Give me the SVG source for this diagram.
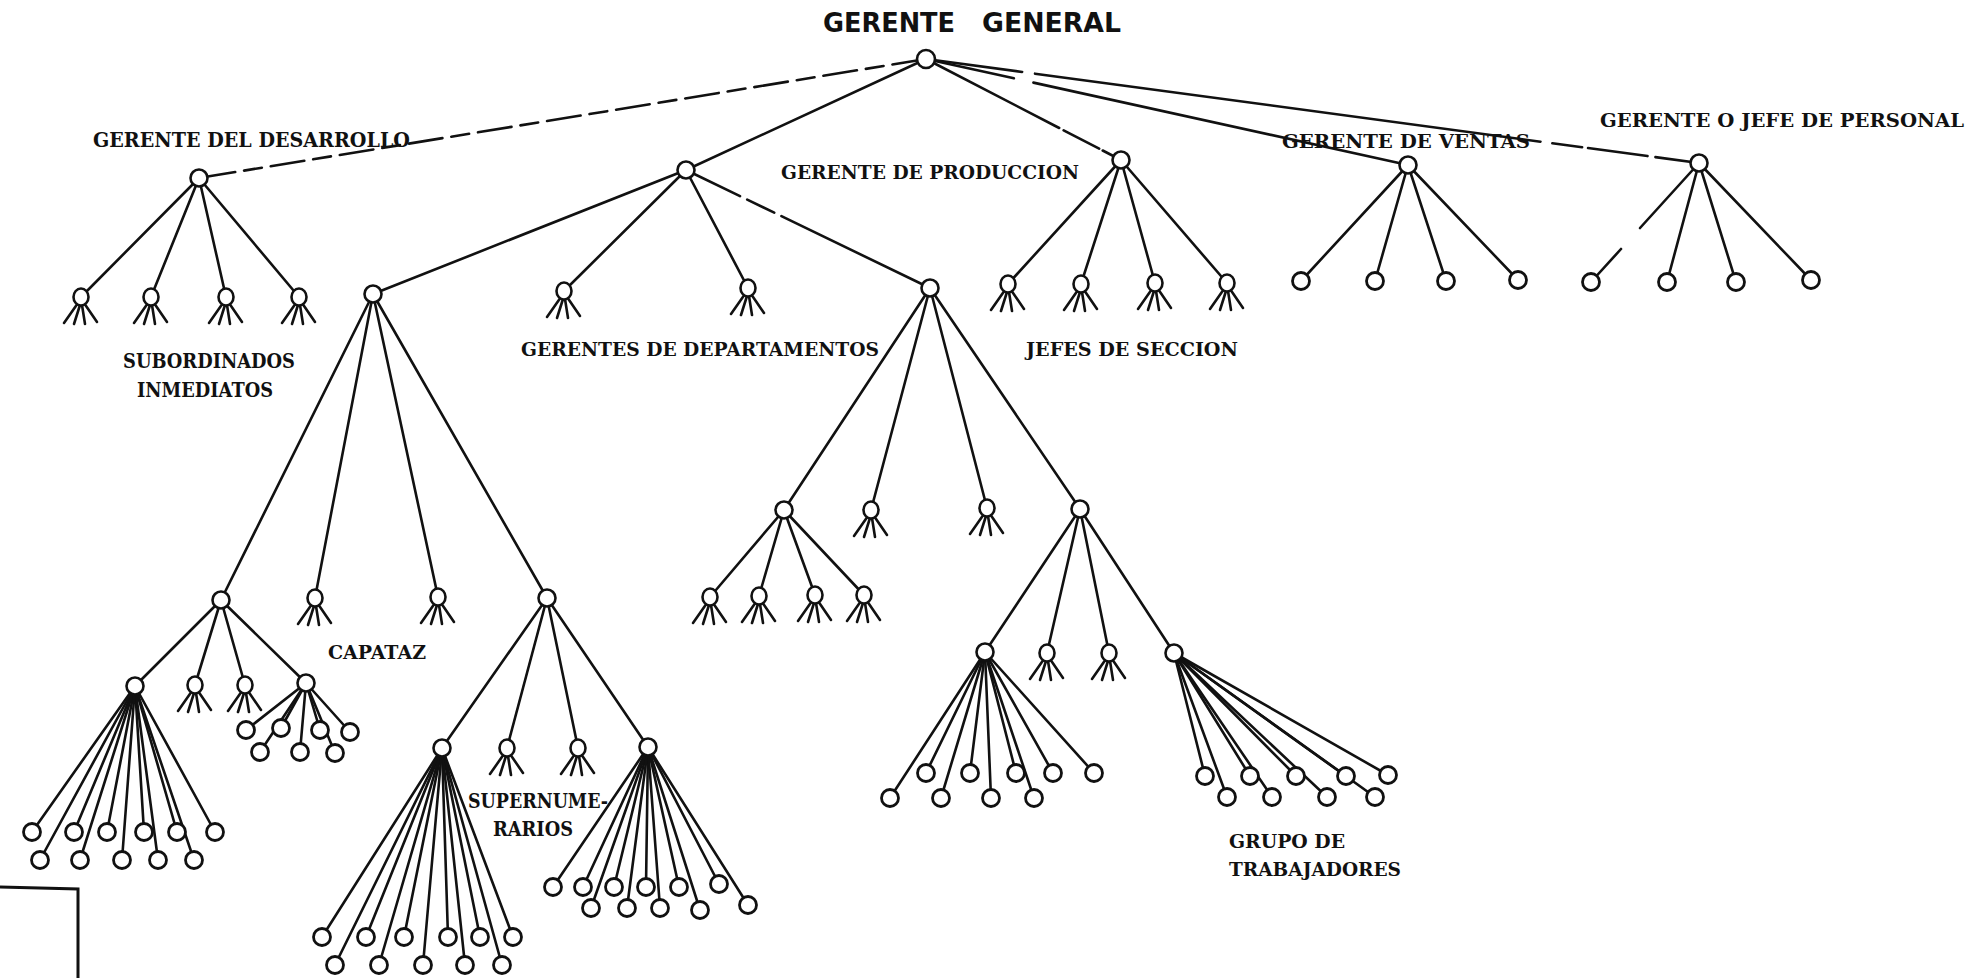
<svg xmlns="http://www.w3.org/2000/svg" xmlns:xlink="http://www.w3.org/1999/xlink" width="1971" height="978" viewBox="0 0 1971 978">
<style>
.e{stroke:#111;stroke-width:2.6;fill:none;stroke-linecap:round}
.n{fill:#fff;stroke:#111;stroke-width:2.6}
.lf{fill:#fff;stroke:#111;stroke-width:2.8}
.lbl{font-family:"DejaVu Serif","Liberation Serif",serif;font-weight:bold;fill:#111}
.ttl{font-family:"DejaVu Sans","Liberation Sans",sans-serif;font-weight:bold;fill:#111}
</style>
<defs>
<g id="ft">
<path class="e" d="M-3,6 L-17,26 M-1,8 L-7,27 M1,8 L4,27 M3,6 L16,25"/>
<ellipse class="n" rx="7.5" ry="8.5"/>
</g>
</defs>
<rect width="1971" height="978" fill="#fff"/>

<g id="connectors">
<line class="e" x1="926" y1="59" x2="199" y2="178" stroke-dasharray="34 9 18 9"/>
<line class="e" x1="926" y1="59" x2="686" y2="170"/>
<line class="e" x1="926" y1="59" x2="1121" y2="160" stroke-dasharray="150 5 40 4 300"/>
<line class="e" x1="926" y1="59" x2="1408" y2="165" stroke-dasharray="90 20 500"/>
<line class="e" x1="926" y1="59" x2="1699" y2="163" stroke-dasharray="97 13 510 12 30 6 60 8 200"/>

<line class="e" x1="199" y1="178" x2="81" y2="297"/>
<line class="e" x1="199" y1="178" x2="151" y2="297"/>
<line class="e" x1="199" y1="178" x2="226" y2="297"/>
<line class="e" x1="199" y1="178" x2="299" y2="297"/>

<line class="e" x1="1121" y1="160" x2="1008" y2="284"/>
<line class="e" x1="1121" y1="160" x2="1081" y2="284"/>
<line class="e" x1="1121" y1="160" x2="1155" y2="283"/>
<line class="e" x1="1121" y1="160" x2="1227" y2="283"/>

<line class="e" x1="1408" y1="165" x2="1301" y2="281"/>
<line class="e" x1="1408" y1="165" x2="1375" y2="281"/>
<line class="e" x1="1408" y1="165" x2="1446" y2="281"/>
<line class="e" x1="1408" y1="165" x2="1518" y2="280"/>

<line class="e" x1="1699" y1="163" x2="1640" y2="228"/>
<line class="e" x1="1621" y1="249" x2="1591" y2="282"/>
<line class="e" x1="1699" y1="163" x2="1667" y2="282"/>
<line class="e" x1="1699" y1="163" x2="1736" y2="282"/>
<line class="e" x1="1699" y1="163" x2="1811" y2="280"/>

<line class="e" x1="686" y1="170" x2="373" y2="294"/>
<line class="e" x1="686" y1="170" x2="564" y2="291"/>
<line class="e" x1="686" y1="170" x2="748" y2="288"/>
<line class="e" x1="686" y1="170" x2="930" y2="288" stroke-dasharray="60 8 30 8 200"/>

<line class="e" x1="373" y1="294" x2="221" y2="600"/>
<line class="e" x1="373" y1="294" x2="315" y2="598"/>
<line class="e" x1="373" y1="294" x2="438" y2="597"/>
<line class="e" x1="373" y1="294" x2="547" y2="598"/>

<line class="e" x1="221" y1="600" x2="135" y2="686"/>
<line class="e" x1="221" y1="600" x2="195" y2="685"/>
<line class="e" x1="221" y1="600" x2="245" y2="685"/>
<line class="e" x1="221" y1="600" x2="306" y2="683"/>

<line class="e" x1="135" y1="686" x2="32" y2="832"/>
<line class="e" x1="135" y1="686" x2="74" y2="832"/>
<line class="e" x1="135" y1="686" x2="107" y2="832"/>
<line class="e" x1="135" y1="686" x2="144" y2="832"/>
<line class="e" x1="135" y1="686" x2="177" y2="832"/>
<line class="e" x1="135" y1="686" x2="215" y2="832"/>
<line class="e" x1="135" y1="686" x2="40" y2="860"/>
<line class="e" x1="135" y1="686" x2="80" y2="860"/>
<line class="e" x1="135" y1="686" x2="122" y2="860"/>
<line class="e" x1="135" y1="686" x2="158" y2="860"/>
<line class="e" x1="135" y1="686" x2="194" y2="860"/>

<line class="e" x1="306" y1="683" x2="246" y2="730"/>
<line class="e" x1="306" y1="683" x2="281" y2="728"/>
<line class="e" x1="306" y1="683" x2="320" y2="730"/>
<line class="e" x1="306" y1="683" x2="350" y2="732"/>
<line class="e" x1="306" y1="683" x2="260" y2="752"/>
<line class="e" x1="306" y1="683" x2="300" y2="752"/>
<line class="e" x1="306" y1="683" x2="335" y2="753"/>

<line class="e" x1="547" y1="598" x2="442" y2="748"/>
<line class="e" x1="547" y1="598" x2="507" y2="748"/>
<line class="e" x1="547" y1="598" x2="578" y2="748"/>
<line class="e" x1="547" y1="598" x2="648" y2="747"/>

<line class="e" x1="442" y1="748" x2="322" y2="937"/>
<line class="e" x1="442" y1="748" x2="366" y2="937"/>
<line class="e" x1="442" y1="748" x2="404" y2="937"/>
<line class="e" x1="442" y1="748" x2="448" y2="937"/>
<line class="e" x1="442" y1="748" x2="480" y2="937"/>
<line class="e" x1="442" y1="748" x2="513" y2="937"/>
<line class="e" x1="442" y1="748" x2="335" y2="965"/>
<line class="e" x1="442" y1="748" x2="379" y2="965"/>
<line class="e" x1="442" y1="748" x2="423" y2="965"/>
<line class="e" x1="442" y1="748" x2="465" y2="965"/>
<line class="e" x1="442" y1="748" x2="502" y2="965"/>

<line class="e" x1="648" y1="747" x2="553" y2="887"/>
<line class="e" x1="648" y1="747" x2="583" y2="887"/>
<line class="e" x1="648" y1="747" x2="614" y2="887"/>
<line class="e" x1="648" y1="747" x2="646" y2="887"/>
<line class="e" x1="648" y1="747" x2="679" y2="887"/>
<line class="e" x1="648" y1="747" x2="719" y2="884"/>
<line class="e" x1="648" y1="747" x2="591" y2="908"/>
<line class="e" x1="648" y1="747" x2="627" y2="908"/>
<line class="e" x1="648" y1="747" x2="660" y2="908"/>
<line class="e" x1="648" y1="747" x2="700" y2="910"/>
<line class="e" x1="648" y1="747" x2="748" y2="905"/>

<line class="e" x1="930" y1="288" x2="784" y2="510"/>
<line class="e" x1="930" y1="288" x2="871" y2="510"/>
<line class="e" x1="930" y1="288" x2="987" y2="508"/>
<line class="e" x1="930" y1="288" x2="1080" y2="509"/>

<line class="e" x1="784" y1="510" x2="710" y2="597"/>
<line class="e" x1="784" y1="510" x2="759" y2="596"/>
<line class="e" x1="784" y1="510" x2="815" y2="595"/>
<line class="e" x1="784" y1="510" x2="864" y2="595"/>

<line class="e" x1="1080" y1="509" x2="985" y2="652"/>
<line class="e" x1="1080" y1="509" x2="1047" y2="653"/>
<line class="e" x1="1080" y1="509" x2="1109" y2="653"/>
<line class="e" x1="1080" y1="509" x2="1174" y2="653"/>

<line class="e" x1="985" y1="652" x2="926" y2="773"/>
<line class="e" x1="985" y1="652" x2="970" y2="773"/>
<line class="e" x1="985" y1="652" x2="1016" y2="773"/>
<line class="e" x1="985" y1="652" x2="1053" y2="773"/>
<line class="e" x1="985" y1="652" x2="1094" y2="773"/>
<line class="e" x1="985" y1="652" x2="890" y2="798"/>
<line class="e" x1="985" y1="652" x2="941" y2="798"/>
<line class="e" x1="985" y1="652" x2="991" y2="798"/>
<line class="e" x1="985" y1="652" x2="1034" y2="798"/>

<line class="e" x1="1174" y1="653" x2="1205" y2="776"/>
<line class="e" x1="1174" y1="653" x2="1250" y2="776"/>
<line class="e" x1="1174" y1="653" x2="1296" y2="776"/>
<line class="e" x1="1174" y1="653" x2="1346" y2="776"/>
<line class="e" x1="1174" y1="653" x2="1388" y2="775"/>
<line class="e" x1="1174" y1="653" x2="1227" y2="797"/>
<line class="e" x1="1174" y1="653" x2="1272" y2="797"/>
<line class="e" x1="1174" y1="653" x2="1327" y2="797"/>
<line class="e" x1="1174" y1="653" x2="1375" y2="797"/>
</g>

<g id="labels">
<text class="ttl" x="823" y="32" font-size="26" textLength="132" lengthAdjust="spacingAndGlyphs">GERENTE</text>
<text class="ttl" x="982" y="32" font-size="26" textLength="139" lengthAdjust="spacingAndGlyphs">GENERAL</text>
<text class="lbl" x="93" y="147" font-size="21" textLength="317" lengthAdjust="spacingAndGlyphs">GERENTE DEL DESARROLLO</text>
<text class="lbl" x="781" y="179" font-size="19" textLength="298" lengthAdjust="spacingAndGlyphs">GERENTE DE PRODUCCION</text>
<text class="lbl" x="1282" y="148" font-size="19" textLength="248" lengthAdjust="spacingAndGlyphs">GERENTE DE VENTAS</text>
<text class="lbl" x="1600" y="127" font-size="19" textLength="364" lengthAdjust="spacingAndGlyphs">GERENTE O JEFE DE PERSONAL</text>
<text class="lbl" x="123" y="368" font-size="20" textLength="172" lengthAdjust="spacingAndGlyphs">SUBORDINADOS</text>
<text class="lbl" x="137" y="397" font-size="20" textLength="136" lengthAdjust="spacingAndGlyphs">INMEDIATOS</text>
<text class="lbl" x="521" y="356" font-size="19" textLength="358" lengthAdjust="spacingAndGlyphs">GERENTES DE DEPARTAMENTOS</text>
<text class="lbl" x="1026" y="356" font-size="19" textLength="212" lengthAdjust="spacingAndGlyphs">JEFES DE SECCION</text>
<text class="lbl" x="328" y="659" font-size="19" textLength="98" lengthAdjust="spacingAndGlyphs">CAPATAZ</text>
<text class="lbl" x="468" y="808" font-size="20" textLength="140" lengthAdjust="spacingAndGlyphs">SUPERNUME-</text>
<text class="lbl" x="493" y="836" font-size="20" textLength="80" lengthAdjust="spacingAndGlyphs">RARIOS</text>
<text class="lbl" x="1229" y="848" font-size="18" textLength="116" lengthAdjust="spacingAndGlyphs">GRUPO DE</text>
<text class="lbl" x="1229" y="876" font-size="18" textLength="172" lengthAdjust="spacingAndGlyphs">TRABAJADORES</text>
</g>

<g id="root"><circle class="n" cx="926" cy="59" r="9"/></g>
<g id="gerente-desarrollo"><circle class="n" cx="199" cy="178" r="8.5"/></g>
<g id="gerente-produccion"><circle class="n" cx="686" cy="170" r="8.5"/></g>
<g id="gerente-c"><circle class="n" cx="1121" cy="160" r="8.5"/></g>
<g id="gerente-ventas"><circle class="n" cx="1408" cy="165" r="8.5"/></g>
<g id="gerente-personal"><circle class="n" cx="1699" cy="163" r="8.5"/></g>

<g id="subordinados">
<use href="#ft" x="81" y="297"/><use href="#ft" x="151" y="297"/><use href="#ft" x="226" y="297"/><use href="#ft" x="299" y="297"/>
</g>
<g id="c-children">
<use href="#ft" x="1008" y="284"/><use href="#ft" x="1081" y="284"/><use href="#ft" x="1155" y="283"/><use href="#ft" x="1227" y="283"/>
</g>
<g id="ventas-children">
<circle class="lf" cx="1301" cy="281" r="8.5"/><circle class="lf" cx="1375" cy="281" r="8.5"/><circle class="lf" cx="1446" cy="281" r="8.5"/><circle class="lf" cx="1518" cy="280" r="8.5"/>
</g>
<g id="personal-children">
<circle class="lf" cx="1591" cy="282" r="8.5"/><circle class="lf" cx="1667" cy="282" r="8.5"/><circle class="lf" cx="1736" cy="282" r="8.5"/><circle class="lf" cx="1811" cy="280" r="8.5"/>
</g>

<g id="dept-1"><circle class="n" cx="373" cy="294" r="8.5"/></g>
<g id="dept-2"><use href="#ft" x="564" y="291"/></g>
<g id="dept-3"><use href="#ft" x="748" y="288"/></g>
<g id="dept-4"><circle class="n" cx="930" cy="288" r="8.5"/></g>

<g id="jefe-1a"><circle class="n" cx="221" cy="600" r="8.5"/></g>
<g id="jefe-1b"><use href="#ft" x="315" y="598"/></g>
<g id="jefe-1c"><use href="#ft" x="438" y="597"/></g>
<g id="jefe-1d"><circle class="n" cx="547" cy="598" r="8.5"/></g>

<g id="capataz-a">
<circle class="n" cx="135" cy="686" r="8.5"/>
<use href="#ft" x="195" y="685"/><use href="#ft" x="245" y="685"/>
<circle class="n" cx="306" cy="683" r="8.5"/>
</g>
<g id="grupo-a1">
<circle class="lf" cx="32" cy="832" r="8.5"/><circle class="lf" cx="74" cy="832" r="8.5"/><circle class="lf" cx="107" cy="832" r="8.5"/><circle class="lf" cx="144" cy="832" r="8.5"/><circle class="lf" cx="177" cy="832" r="8.5"/><circle class="lf" cx="215" cy="832" r="8.5"/>
<circle class="lf" cx="40" cy="860" r="8.5"/><circle class="lf" cx="80" cy="860" r="8.5"/><circle class="lf" cx="122" cy="860" r="8.5"/><circle class="lf" cx="158" cy="860" r="8.5"/><circle class="lf" cx="194" cy="860" r="8.5"/>
</g>
<g id="grupo-a4">
<circle class="lf" cx="246" cy="730" r="8.5"/><circle class="lf" cx="281" cy="728" r="8.5"/><circle class="lf" cx="320" cy="730" r="8.5"/><circle class="lf" cx="350" cy="732" r="8.5"/>
<circle class="lf" cx="260" cy="752" r="8.5"/><circle class="lf" cx="300" cy="752" r="8.5"/><circle class="lf" cx="335" cy="753" r="8.5"/>
</g>

<g id="capataz-d">
<circle class="n" cx="442" cy="748" r="8.5"/>
<use href="#ft" x="507" y="748"/><use href="#ft" x="578" y="748"/>
<circle class="n" cx="648" cy="747" r="8.5"/>
</g>
<g id="grupo-d1">
<circle class="lf" cx="322" cy="937" r="8.5"/><circle class="lf" cx="366" cy="937" r="8.5"/><circle class="lf" cx="404" cy="937" r="8.5"/><circle class="lf" cx="448" cy="937" r="8.5"/><circle class="lf" cx="480" cy="937" r="8.5"/><circle class="lf" cx="513" cy="937" r="8.5"/>
<circle class="lf" cx="335" cy="965" r="8.5"/><circle class="lf" cx="379" cy="965" r="8.5"/><circle class="lf" cx="423" cy="965" r="8.5"/><circle class="lf" cx="465" cy="965" r="8.5"/><circle class="lf" cx="502" cy="965" r="8.5"/>
</g>
<g id="grupo-d4">
<circle class="lf" cx="553" cy="887" r="8.5"/><circle class="lf" cx="583" cy="887" r="8.5"/><circle class="lf" cx="614" cy="887" r="8.5"/><circle class="lf" cx="646" cy="887" r="8.5"/><circle class="lf" cx="679" cy="887" r="8.5"/><circle class="lf" cx="719" cy="884" r="8.5"/>
<circle class="lf" cx="591" cy="908" r="8.5"/><circle class="lf" cx="627" cy="908" r="8.5"/><circle class="lf" cx="660" cy="908" r="8.5"/><circle class="lf" cx="700" cy="910" r="8.5"/><circle class="lf" cx="748" cy="905" r="8.5"/>
</g>

<g id="jefe-4a"><circle class="n" cx="784" cy="510" r="8.5"/></g>
<g id="jefe-4b"><use href="#ft" x="871" y="510"/></g>
<g id="jefe-4c"><use href="#ft" x="987" y="508"/></g>
<g id="jefe-4d"><circle class="n" cx="1080" cy="509" r="8.5"/></g>
<g id="capataz-4a">
<use href="#ft" x="710" y="597"/><use href="#ft" x="759" y="596"/><use href="#ft" x="815" y="595"/><use href="#ft" x="864" y="595"/>
</g>
<g id="capataz-4d">
<circle class="n" cx="985" cy="652" r="8.5"/>
<use href="#ft" x="1047" y="653"/><use href="#ft" x="1109" y="653"/>
<circle class="n" cx="1174" cy="653" r="8.5"/>
</g>
<g id="grupo-4d1">
<circle class="lf" cx="926" cy="773" r="8.5"/><circle class="lf" cx="970" cy="773" r="8.5"/><circle class="lf" cx="1016" cy="773" r="8.5"/><circle class="lf" cx="1053" cy="773" r="8.5"/><circle class="lf" cx="1094" cy="773" r="8.5"/>
<circle class="lf" cx="890" cy="798" r="8.5"/><circle class="lf" cx="941" cy="798" r="8.5"/><circle class="lf" cx="991" cy="798" r="8.5"/><circle class="lf" cx="1034" cy="798" r="8.5"/>
</g>
<g id="grupo-4d4">
<circle class="lf" cx="1205" cy="776" r="8.5"/><circle class="lf" cx="1250" cy="776" r="8.5"/><circle class="lf" cx="1296" cy="776" r="8.5"/><circle class="lf" cx="1346" cy="776" r="8.5"/><circle class="lf" cx="1388" cy="775" r="8.5"/>
<circle class="lf" cx="1227" cy="797" r="8.5"/><circle class="lf" cx="1272" cy="797" r="8.5"/><circle class="lf" cx="1327" cy="797" r="8.5"/><circle class="lf" cx="1375" cy="797" r="8.5"/>
</g>

<g id="stamp">
<path d="M0,887 L78,889 L78,978" fill="none" stroke="#111" stroke-width="3"/>
</g>
</svg>
